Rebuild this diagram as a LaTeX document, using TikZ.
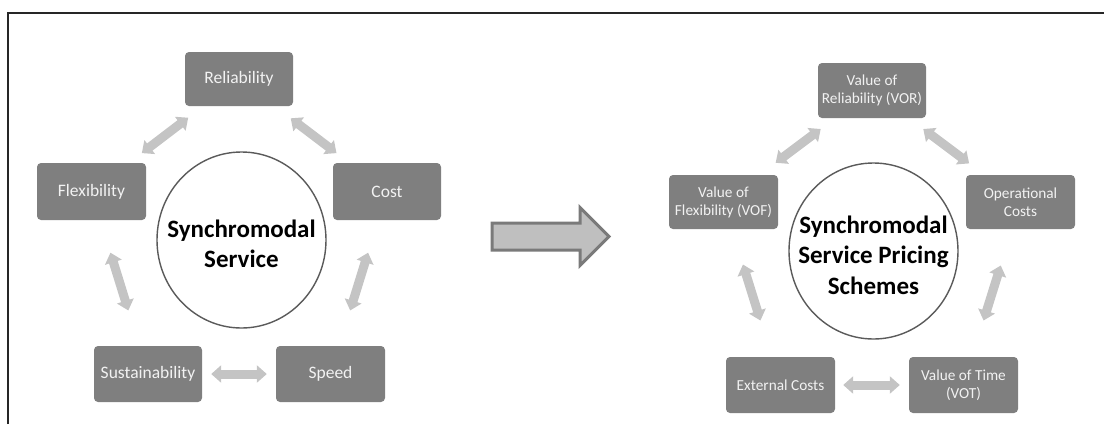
\documentclass[tikz,border=0pt]{standalone}
\usepackage{fontspec}
\setmainfont{Carlito}
\usetikzlibrary{arrows.meta,shapes.geometric}

\definecolor{boxgray}{HTML}{7F7F7F}
\definecolor{boxtext}{HTML}{F2F2F2}
\definecolor{linkgray}{HTML}{C4C4C4}
\definecolor{hubline}{HTML}{5A5A5A}
\definecolor{bigfill}{HTML}{BFBFBF}
\definecolor{bigline}{HTML}{7A7A7A}

\begin{document}
\begin{tikzpicture}[x=1pt,y=-1pt,
  box/.style={fill=boxgray, rounded corners=4pt, text=boxtext, align=center,
    inner sep=0pt, minimum width=108pt, minimum height=56pt},
  bigtxt/.style={font=\fontsize{17.5}{20}\selectfont},
  smalltxt/.style={font=\fontsize{15.3}{18}\selectfont},
  hub/.style={ellipse, draw=hubline, line width=1.4pt, fill=white,
    minimum width=169pt, minimum height=176pt, inner sep=0pt},
  hubtext/.style={align=center, text=black, inner sep=0pt,
    font=\bfseries\fontsize{25}{30.5}\selectfont},
  link/.style={draw=linkgray, line width=9pt,
    {Triangle[width=17pt,length=10pt]}-{Triangle[width=17pt,length=10pt]}}
]
\useasboundingbox (0,0) rectangle (1104,424);

% frame
\draw[line width=2.2pt, black!85] (8,424) -- (8,13) -- (1104,13);

% ---- left cycle ----
\node[hub] (hubL) at (241.5,240) {};
\node[hubtext] (hubLt) at (241.5,244) {Synchromodal\\Service};
\node[box,bigtxt,minimum height=54pt] (rel) at (239,79) {Reliability};
\node[box,bigtxt,minimum width=109pt,minimum height=57pt] (flex) at (91.5,191.5) {Flexibility};
\node[box,bigtxt,minimum height=57pt] (cost) at (387,191.5) {Cost};
\node[box,bigtxt] (sust) at (148,374) {Sustainability};
\node[box,bigtxt,minimum width=109pt] (speed) at (330.5,374) {Speed};

\draw[link, shorten <=19pt, shorten >=16pt] (rel) -- (flex);
\draw[link, shorten <=20pt, shorten >=16pt] (rel) -- (cost);
\draw[link, shorten <=34pt, shorten >=37pt] (cost) -- (speed);
\draw[link, shorten <=34pt, shorten >=37pt] (flex) -- (sust);
\draw[link, shorten <=9pt, shorten >=9pt] (sust) -- (speed);

% ---- transition arrow ----
\draw[fill=bigfill, draw=bigline, line width=3pt, line join=miter]
  (492,223) -- (580,223) -- (580,207.5) -- (609,236.5) -- (580,265.5)
  -- (580,250) -- (492,250) -- cycle;

% ---- right cycle ----
\node[hub] (hubR) at (873.5,251) {};
\node[hubtext] (hubRt) at (873.5,255) {Synchromodal\\Service Pricing\\Schemes};
\node[box,smalltxt,minimum height=55pt] (vor) at (872,90.5) {Value of\\Reliability (VOR)};
\node[box,smalltxt,minimum width=109pt,minimum height=54pt] (vof) at (723.5,202) {Value of\\Flexibility (VOF)};
\node[box,smalltxt,minimum width=109pt,minimum height=54pt] (opc) at (1020.5,202) {Operational\\Costs};
\node[box,smalltxt,minimum width=109pt] (ext) at (780.5,385) {External Costs};
\node[box,smalltxt,minimum width=109pt] (vot) at (963.5,385) {Value of Time\\(VOT)};

\draw[link, shorten <=18pt, shorten >=20pt] (vor) -- (vof);
\draw[link, shorten <=18pt, shorten >=19pt] (vor) -- (opc);
\draw[link, shorten <=38pt, shorten >=38pt] (opc) -- (vot);
\draw[link, shorten <=37pt, shorten >=38pt] (vof) -- (ext);
\draw[link, shorten <=8pt, shorten >=9pt] (ext) -- (vot);
\end{tikzpicture}
\end{document}
